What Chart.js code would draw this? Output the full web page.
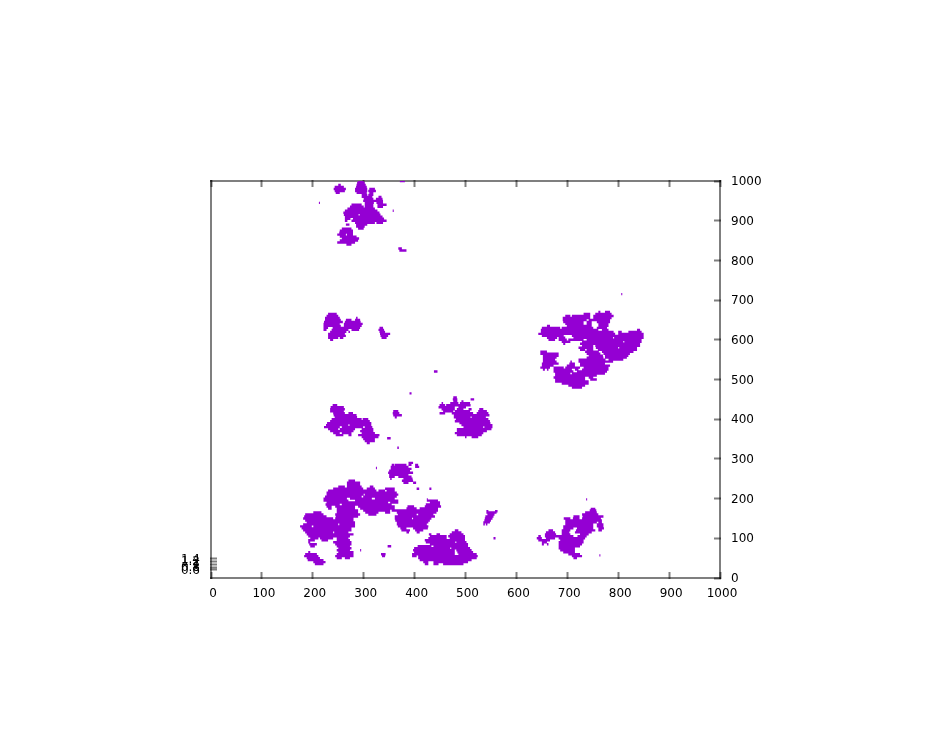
<!DOCTYPE html>
<html><head><meta charset="utf-8">
<script src="https://cdn.jsdelivr.net/npm/chart.js@4"></script>
<style>html,body{margin:0;padding:0;background:#fff}canvas{display:block}</style>
</head><body><canvas id="c" width="930" height="752"></canvas>
<script>
// each row: y, then pairs of x start / x end
const clusterTop = [
[1000,289,300,371,381],[995,287,302],[990,286,304,250,255],[985,285,306,243,261],[980,283,307,311,322,241,265],
[975,283,307,309,324,243,263],[970,286,306,311,319,245,253],[965,296,307,309,319],[960,296,317,329,335],
[955,300,319,324,337],[950,299,338],[945,302,320,325,338,212,214],[940,276,296,302,319,327,345],
[935,273,300,302,319,327,338],[930,268,322],[925,263,327,357,359],[920,260,331],[915,261,290,292,333],[910,263,337],
[905,263,274,279,340],[900,263,268,276,345],[895,283,322,325,338],[890,265,272,285,307],[885,285,302],
[880,257,276,289,300],[875,253,279],[870,252,279],[865,248,265,267,279],[860,253,286],[855,257,291],[850,253,289],
[845,248,283],[840,266,276],[830,368,375],[825,370,384]
];
const clusterMidLeft = [
[665,230,247],[660,227,250],[655,224,253,285,288],[650,224,255,265,276,283,293],[645,222,259,263,294],
[640,221,253,261,298],[635,221,255,261,296],[630,221,230,239,293,331,338],[625,221,227,237,270,276,291,329,340],
[620,234,266,270,273,331,342],[615,230,263,332,352],[610,230,265,333,348],[605,230,250,253,260,335,345],[600,234,240],
[465,390,394],[435,239,248],[430,235,261],[425,234,263],[420,234,261,358,368],[415,240,263,270,279,357,370],
[410,241,286,358,375],[405,243,287,361,365],[400,237,296,298,309],[395,234,312],[390,228,315],[385,226,270,272,315],
[380,222,253,257,299,302,317],[375,230,250,253,283,296,319],[370,234,280,293,319],[365,240,253,257,276,296,322],
[360,245,260,270,276,289,331],[355,296,329],[352,346,353],[350,299,322],[345,302,322],[340,306,312],[328,366,369]
];
const clusterMidCentre = [
[520,438,445],[455,476,483],[450,475,484,510,517],[445,476,484,492,496],[440,453,456,470,486,489,509],
[435,449,460,462,510],[430,447,479,486,501],[425,453,479,483,496,506,512,527,535],[420,456,476,479,509,525,542],
[415,449,460,473,515,522,545],[410,477,547],[405,477,510,512,540],[400,481,545],[395,479,548],[390,488,549],
[385,492,553],[380,496,535,537,553],[375,483,551],[370,483,542],[365,479,535],[360,483,532],[355,499,502,512,525]
];
const clusterRightBig = [
[715,806,808],[670,761,765,774,784],[665,732,745,755,787],[660,696,706,709,745,751,791],[655,691,745,751,787],
[650,691,738,742,784],[645,692,732,738,748,758,784],[640,696,732,738,748,761,781],[635,660,666,699,748,761,781],
[630,650,686,689,751,758,778],[625,648,761,768,781,837,843],[620,648,791,800,807,820,846],[615,643,794,800,850],
[610,650,693,709,850],[605,660,680,683,696,712,790,792,850],[600,663,676,683,699,702,732,738,846],
[595,689,706,729,810,812,846],[590,692,696,725,843],[585,729,751,755,843],[580,722,751,756,800,802,837],
[575,725,735,738,751,760,837],[570,647,660,735,762,768,830],[565,647,683,738,765,771,823],[560,652,683,742,770,774,820],
[555,652,679,738,771,774,817],[550,652,676,722,775,781,810],[545,652,679,706,709,722,790],
[540,650,683,704,715,725,774],[535,650,673,699,715,725,784],[530,647,666,673,693,696,725,732,781],
[525,652,656,660,663,673,709,715,722,729,781],[520,673,712,719,778],[515,676,706,709,774],[510,676,758],
[505,673,735,742,751],[500,676,735,745,758],[495,676,742],[490,689,742],[485,702,735],[480,709,729]
];
const clusterRightLow = [
[198,737,739],[174,746,755],[170,744,757],[165,735,758],[160,729,761],[155,712,724,730,771],[150,693,706,711,724,729,766],
[145,696,768],[140,696,758,761,768],[135,696,751,758,771],[130,692,751,758,771],[125,692,712,719,751,761,772],
[120,663,672,689,706,717,755,761,768],[115,658,676,689,704,715,748],[110,656,678,689,706,725,742],
[105,643,648,656,712,720,738],[100,640,650,658,676,683,735],[95,643,666,686,732],[90,650,660,683,732],
[85,650,654,660,663,683,729],[80,683,725],[75,683,715],[70,686,715],[65,692,715],[60,702,725],[57,763,765],[55,709,729],[50,712,719]
];
const clusterLowLeft = [
[277,324,326],[245,270,283],[240,267,293],[235,267,293],[230,250,263,267,296,312,319],[225,240,299,306,322,342,361],
[220,230,325,329,342,345,361],[215,227,365],[210,227,300,302,368],[205,224,296,299,365],[200,221,267,273,316,322,361],
[195,221,270,283,368],[190,227,348,352,368],[185,225,253,257,355],[180,227,237,244,283,289,361],
[175,230,237,247,283,293,361],[170,247,289,299,352,355,368],[165,201,217,247,289,303,329,342,352],
[160,185,221,244,293,309,325],[155,183,227,245,289],[150,181,240,244,280],[145,185,280],[140,188,283],[135,181,250,252,283],
[130,175,198,201,283],[125,178,276],[120,181,276],[115,185,240,242,270],[110,188,280],[105,191,273],
[100,195,211,214,240,247,270],[95,191,204,217,230,247,273],[90,191,195,240,276],[85,193,208,244,276],[80,195,204,247,273,347,354],
[75,250,276],[70,247,273,293,295],[65,191,195,250,280],[60,185,208,247,280,334,343],[55,183,211,244,280,336,342],
[50,188,214,247,257,263,273],[45,190,221],[40,201,225],[35,204,221]
];
const clusterLowMid = [
[290,388,397],[285,355,360,361,384,388,394,401,407],[280,353,388,401,409],[275,353,394],[270,350,391],[265,348,397],
[260,350,388],[255,350,361,368,394],[250,352,355,378,396],[245,375,397],[240,378,388,397,403],[225,352,361,404,409,429,433],
[198,424,426],[195,424,446],[190,430,450],[185,422,450],[180,386,399,420,452],[175,384,404,410,446],[170,365,446],
[165,365,443],[160,367,404,407,437],[155,361,440],[150,361,395,397,433],[145,362,430],[140,365,427],[135,365,424],[130,367,427],
[125,372,384,397,426],[120,374,391,401,417,479,486],[115,384,389,404,410,473,492],[110,428,433,443,450,469,496],
[105,430,463,466,499],[100,427,463,469,499,555,559],[95,420,499],[90,422,480,482,502],[85,430,505],[80,406,433,437,505],
[75,399,470,472,509],[70,397,479,482,512],[65,399,479,484,515],[60,395,479,486,522],[55,395,404,407,524],[50,407,522],
[45,410,512],[40,417,427,437,505],[35,420,427,437,447,456,496],
[168,541,545,558,563],[165,541,561],[160,543,557],[155,539,555],[150,538,553],[145,537,550],[140,535,548],[135,535,538,540,543]
];
const clusters = [clusterTop, clusterMidLeft, clusterMidCentre, clusterRightBig, clusterRightLow, clusterLowLeft, clusterLowMid];
const xTickValues = [0,100,200,300,400,500,600,700,800,900,1000];
const yTickValues = [0,100,200,300,400,500,600,700,800,900,1000];
const leftTickValues = [0.6,0.8,1,1.2,1.4];

const spans = [];
for (const cluster of clusters) for (const row of cluster) {
  for (let i = 1; i + 1 < row.length; i += 2) {
    spans.push({x: row[i], y: row[0]}, {x: row[i + 1], y: row[0]}, {x: null, y: null});
  }
}
const axisInk = 'rgba(0,0,0,0.5)';
const font = {family: '"DejaVu Sans"', size: 12};
const gridOpts = {drawOnChartArea: false, drawTicks: true, tickLength: -6, tickWidth: 2, tickColor: axisInk};
const borderOpts = {display: true, color: axisInk, width: 2};
const fixed = (side, v) => s => { s[side] = v; };
const plain = v => String(v);

new Chart(document.getElementById('c'), {
  type: 'scatter',
  data: {datasets: [{
    data: spans, showLine: true, spanGaps: false, pointRadius: 0, pointHoverRadius: 0,
    borderColor: '#9400d3', borderWidth: 2.4, borderCapStyle: 'butt', tension: 0,
    xAxisID: 'x', yAxisID: 'y'
  }]},
  options: {
    responsive: false, animation: false, events: [],
    layout: {padding: 0},
    plugins: {legend: {display: false}, title: {display: false}, tooltip: {enabled: false}},
    scales: {
      x: {type: 'linear', position: 'bottom', min: 0, max: 1000, grid: gridOpts, border: borderOpts,
        afterBuildTicks: s => { s.ticks = xTickValues.map(value => ({value})); },
        ticks: {font, color: '#000', padding: 15, labelOffset: 2, maxRotation: 0, autoSkip: false, callback: plain},
        afterFit: fixed('height', 174)},
      xTop: {type: 'linear', position: 'top', min: 0, max: 1000, grid: gridOpts, border: borderOpts,
        afterBuildTicks: s => { s.ticks = xTickValues.map(value => ({value})); },
        ticks: {display: false}, afterFit: fixed('height', 181)},
      y: {type: 'linear', position: 'right', min: 0, max: 1000, grid: gridOpts, border: borderOpts,
        afterBuildTicks: s => { s.ticks = yTickValues.map(value => ({value})); },
        ticks: {font, color: '#000', padding: 17, labelOffset: 1, autoSkip: false, callback: plain},
        afterFit: fixed('width', 210)},
      yLeft: {type: 'linear', position: 'left', min: 0.04, max: 27.6, grid: gridOpts, border: borderOpts,
        afterBuildTicks: s => { s.ticks = leftTickValues.map(value => ({value})); },
        ticks: {font, color: '#000', padding: 17, labelOffset: 1, autoSkip: false, callback: plain},
        afterFit: fixed('width', 211)}
    }
  }
});
</script></body></html>
